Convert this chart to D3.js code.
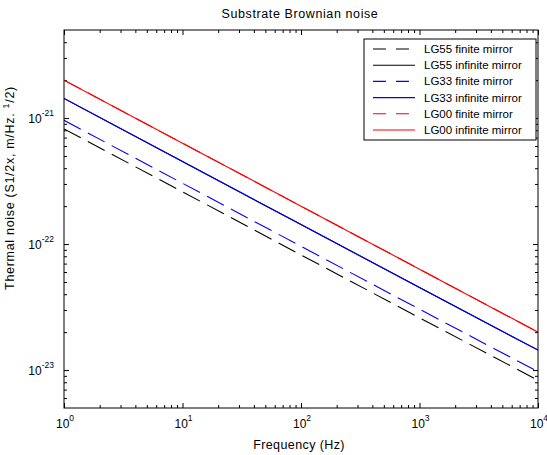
<!DOCTYPE html>
<html>
<head>
<meta charset="utf-8">
<script src="https://cdn.jsdelivr.net/npm/d3@7"></script>
<style>
  body { margin: 0; background: #fff; }
  svg { display: block; }
  text { font-family: "Liberation Sans", Arial, Helvetica, sans-serif; fill: #000; }
</style>
</head>
<body>
<svg id="chart" width="547" height="455"></svg>
<script>
// ---- data ----
const freq = [1, 10, 100, 1000, 10000];
const lg55Finite   = [8.2e-22, 2.6e-22, 8.2e-23, 2.6e-23, 8.3e-24];
const lg55Infinite = [1.43e-21, 4.52e-22, 1.43e-22, 4.52e-23, 1.44e-23];
const lg33Finite   = [9.6e-22, 3.04e-22, 9.6e-23, 3.04e-23, 9.7e-24];
const lg33Infinite = [1.43e-21, 4.52e-22, 1.43e-22, 4.52e-23, 1.44e-23];
const lg00Finite   = [2.0e-21, 6.32e-22, 2.0e-22, 6.32e-23, 2.0e-23];
const lg00Infinite = [2.0e-21, 6.32e-22, 2.0e-22, 6.32e-23, 2.0e-23];
const seriesNames = ["LG55 finite mirror", "LG55 infinite mirror", "LG33 finite mirror",
                     "LG33 infinite mirror", "LG00 finite mirror", "LG00 infinite mirror"];
const seriesValues = [lg55Finite, lg55Infinite, lg33Finite, lg33Infinite, lg00Finite, lg00Infinite];
const seriesColors = ["#000000", "#000000", "#0000ff", "#0000ff", "#ff0000", "#ff0000"];
const seriesDashed = [true, false, true, false, true, false];
const xTickExps = [0, 1, 2, 3, 4];
const yTickExps = [-23, -22, -21];
const xDomain = [1, 1e4];
const yDomain = [5e-24, 5e-21];
const titleText = "Substrate Brownian noise";
const xLabelText = "Frequency (Hz)";

// ---- layout ----
const svg = d3.select("#chart");
const L = 64, R = 538, T = 30, B = 408;
const x = d3.scaleLog().domain(xDomain).range([L, R]);
const y = d3.scaleLog().domain(yDomain).range([B, T]);

svg.append("rect").attr("width", 547).attr("height", 455).attr("fill", "#fff");

// minor tick values
const xMinor = [], yMinor = [];
for (let e = 0; e < 4; e++) for (let m = 2; m <= 9; m++) xMinor.push(m * Math.pow(10, e));
for (let e = -24; e <= -21; e++) for (let m = 2; m <= 9; m++) {
  const v = m * Math.pow(10, e);
  if (v > yDomain[0] * 1.0001 && v < yDomain[1] * 0.9999) yMinor.push(v);
}
const xMajor = xTickExps.map(e => Math.pow(10, e));
const yMajor = yTickExps.map(e => Math.pow(10, e));

function addAxis(axisGen, tr, vals, size) {
  const g = svg.append("g").attr("transform", tr)
    .call(axisGen.tickValues(vals).tickSize(size).tickFormat(""));
  g.select(".domain").remove();
  g.selectAll(".tick line").attr("stroke", "#000").attr("stroke-width", 1);
  return g;
}
// inward ticks on all four sides
addAxis(d3.axisBottom(x), `translate(0,${B})`, xMajor, -5);
addAxis(d3.axisBottom(x), `translate(0,${B})`, xMinor, -3);
addAxis(d3.axisTop(x), `translate(0,${T})`, xMajor, -5);
addAxis(d3.axisTop(x), `translate(0,${T})`, xMinor, -3);
addAxis(d3.axisLeft(y), `translate(${L},0)`, yMajor, -5);
addAxis(d3.axisLeft(y), `translate(${L},0)`, yMinor, -3);
addAxis(d3.axisRight(y), `translate(${R},0)`, yMajor, -5);
addAxis(d3.axisRight(y), `translate(${R},0)`, yMinor, -3);

// lines
const clipId = "plotclip";
svg.append("clipPath").attr("id", clipId).append("rect")
  .attr("x", L).attr("y", T).attr("width", R - L).attr("height", B - T);
const line = d3.line().x(d => x(d[0])).y(d => y(d[1]));
const plot = svg.append("g").attr("clip-path", `url(#${clipId})`);
seriesValues.forEach((vals, i) => {
  plot.append("path")
    .datum(freq.map((f, j) => [f, vals[j]]))
    .attr("d", line)
    .attr("fill", "none")
    .attr("stroke", seriesColors[i])
    .attr("stroke-width", 1.1)
    .attr("stroke-dasharray", seriesDashed[i] ? "19,8" : null);
});

// frame
svg.append("rect").attr("x", L).attr("y", T).attr("width", R - L).attr("height", B - T)
  .attr("fill", "none").attr("stroke", "#000").attr("stroke-width", 1);

// x tick labels
xTickExps.forEach(e => {
  const t = svg.append("text").attr("x", x(Math.pow(10, e)) + 1).attr("y", 428)
    .attr("text-anchor", "middle").style("font-size", "12px");
  t.append("tspan").text("10");
  t.append("tspan").attr("dy", -7).style("font-size", "8.5px").text(String(e));
});
// y tick labels
yTickExps.forEach(e => {
  const t = svg.append("text").attr("x", 54).attr("y", y(Math.pow(10, e)) + 5)
    .attr("text-anchor", "end").style("font-size", "12px");
  t.append("tspan").text("10");
  t.append("tspan").attr("dy", -7).style("font-size", "8.5px").text(String(e));
});

// title and axis labels
svg.append("text").attr("x", 300).attr("y", 18).attr("text-anchor", "middle")
  .style("font-size", "12.5px").style("letter-spacing", "0.6px").text(titleText);
svg.append("text").attr("x", 299).attr("y", 449).attr("text-anchor", "middle")
  .style("font-size", "12.5px").style("letter-spacing", "0.4px").text(xLabelText);
const yl = svg.append("text").attr("transform", "translate(14,188) rotate(-90)")
  .attr("text-anchor", "middle").style("font-size", "12.5px").style("letter-spacing", "0.7px");
yl.append("tspan").text("Thermal noise (S1/2x, m/Hz. ");
yl.append("tspan").attr("dy", -5).style("font-size", "9px").text("1");
yl.append("tspan").attr("dy", 5).text("/2)");

// legend
const lx = 364, ly = 39, lw = 172, lh = 101;
svg.append("rect").attr("x", lx).attr("y", ly).attr("width", lw).attr("height", lh)
  .attr("fill", "#fff").attr("stroke", "#000").attr("stroke-width", 1);
seriesNames.forEach((name, i) => {
  const yy = 49 + i * 16.2;
  svg.append("line").attr("x1", 373).attr("x2", 415).attr("y1", yy).attr("y2", yy)
    .attr("stroke", seriesColors[i]).attr("stroke-width", 1.1)
    .attr("stroke-dasharray", seriesDashed[i] ? "13,10" : null);
  svg.append("text").attr("x", 424).attr("y", yy + 4).style("font-size", "11.5px").text(name);
});
</script>
</body>
</html>
